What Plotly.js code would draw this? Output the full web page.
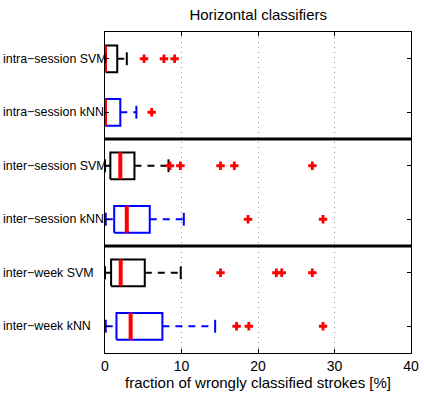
<!DOCTYPE html>
<html><head><meta charset="utf-8">
<script src="https://cdn.plot.ly/plotly-3.0.1.min.js"></script>
<style>html,body{margin:0;padding:0;background:#fff}#c{width:424px;height:395px}</style>
</head><body><div id="c"></div>
<script>
var categories = ["intra\u2212session SVM","intra\u2212session kNN","inter\u2212session SVM","inter\u2212session kNN","inter\u2212week SVM","inter\u2212week kNN"];
var positions  = [6, 5, 4, 3, 2, 1];
var lowerWhisker = [0.0, 0.0, 0.0, 0.1, 0.0, 0.1];
var q1           = [0.1, 0.0, 0.7, 1.2, 0.8, 1.5];
var medians      = [0.0, 0.0, 2.0, 2.85, 2.05, 3.35];
var q3           = [1.6, 2.0, 3.85, 5.85, 5.2, 7.5];
var upperWhisker = [2.85, 4.1, 8.3, 10.3, 9.9, 14.4];
var outliers     = [[5.1, 7.7, 9.1], [6.1], [8.5, 9.85, 15.1, 16.9, 27.1], [18.7, 28.5], [15.1, 22.4, 23.1, 27.1], [17.2, 18.8, 28.5]];
var boxColors    = ["#000000","#0000ff","#000000","#0000ff","#000000","#0000ff"];
var separators   = [4.5, 2.5];
var xTicks       = [0, 10, 20, 30, 40];

var traces = [];
var hb = 0.25, hc = 0.12;
for (var i = 0; i < categories.length; i++) {
  var y = positions[i], c = boxColors[i];
  traces.push({x:[q3[i], upperWhisker[i], null, lowerWhisker[i], q1[i]], y:[y, y, null, y, y], mode:'lines', line:{color:c, width:2, dash:'7px,6px'}, hoverinfo:'skip'});
  traces.push({x:[upperWhisker[i], upperWhisker[i], null, lowerWhisker[i], lowerWhisker[i]], y:[y-hc, y+hc, null, y-hc, y+hc], mode:'lines', line:{color:c, width:2}, hoverinfo:'skip'});
  traces.push({x:[q1[i], q3[i], q3[i], q1[i], q1[i]], y:[y-hb, y-hb, y+hb, y+hb, y-hb], mode:'lines', line:{color:c, width:2}, hoverinfo:'skip'});
  traces.push({x:[medians[i], medians[i]], y:[y-hb, y+hb], mode:'lines', line:{color:'#ff0000', width:4}, hoverinfo:'skip'});
  traces.push({x:outliers[i], y:outliers[i].map(function(){return y;}), mode:'markers', marker:{symbol:'cross', size:7, color:'#ff0000', line:{width:0}}, hoverinfo:'skip'});
}
for (var s = 0; s < separators.length; s++) {
  traces.push({x:[0, 40], y:[separators[s], separators[s]], mode:'lines', line:{color:'#000000', width:3}, hoverinfo:'skip'});
}

var annotations = categories.map(function(t, i){
  return {text:t, xref:'paper', yref:'y', x:-0.34, y:positions[i], xanchor:'left', yanchor:'middle', showarrow:false, font:{size:12.4, color:'#000'}};
});

var layout = {
  width:424, height:395,
  margin:{l:105, r:13, t:32, b:42},
  showlegend:false,
  paper_bgcolor:'#fff', plot_bgcolor:'#fff',
  font:{family:'Liberation Sans, Arial, sans-serif', color:'#000', size:12},
  title:{text:'Horizontal classifiers', font:{size:15, color:'#000'}, x:0.609, xanchor:'center', y:0.977, yanchor:'top'},
  annotations:annotations,
  xaxis:{range:[0,40], tickvals:xTicks, ticks:'inside', ticklen:4, tickcolor:'#000', showline:true, linecolor:'#000', linewidth:1, mirror:'ticks',
         showgrid:true, gridcolor:'#999999', griddash:'1px,4px', gridwidth:1, zeroline:false, tickfont:{size:14},
         title:{text:'fraction of wrongly classified strokes [%]', font:{size:15}, standoff:2}},
  yaxis:{range:[0.5,6.5], tickvals:positions, showticklabels:false, ticks:'inside', ticklen:4, tickcolor:'#000', showline:true, linecolor:'#000', linewidth:1, mirror:'ticks',
         showgrid:false, zeroline:false}
};
Plotly.newPlot('c', traces, layout, {staticPlot:true, displayModeBar:false});
</script></body></html>
